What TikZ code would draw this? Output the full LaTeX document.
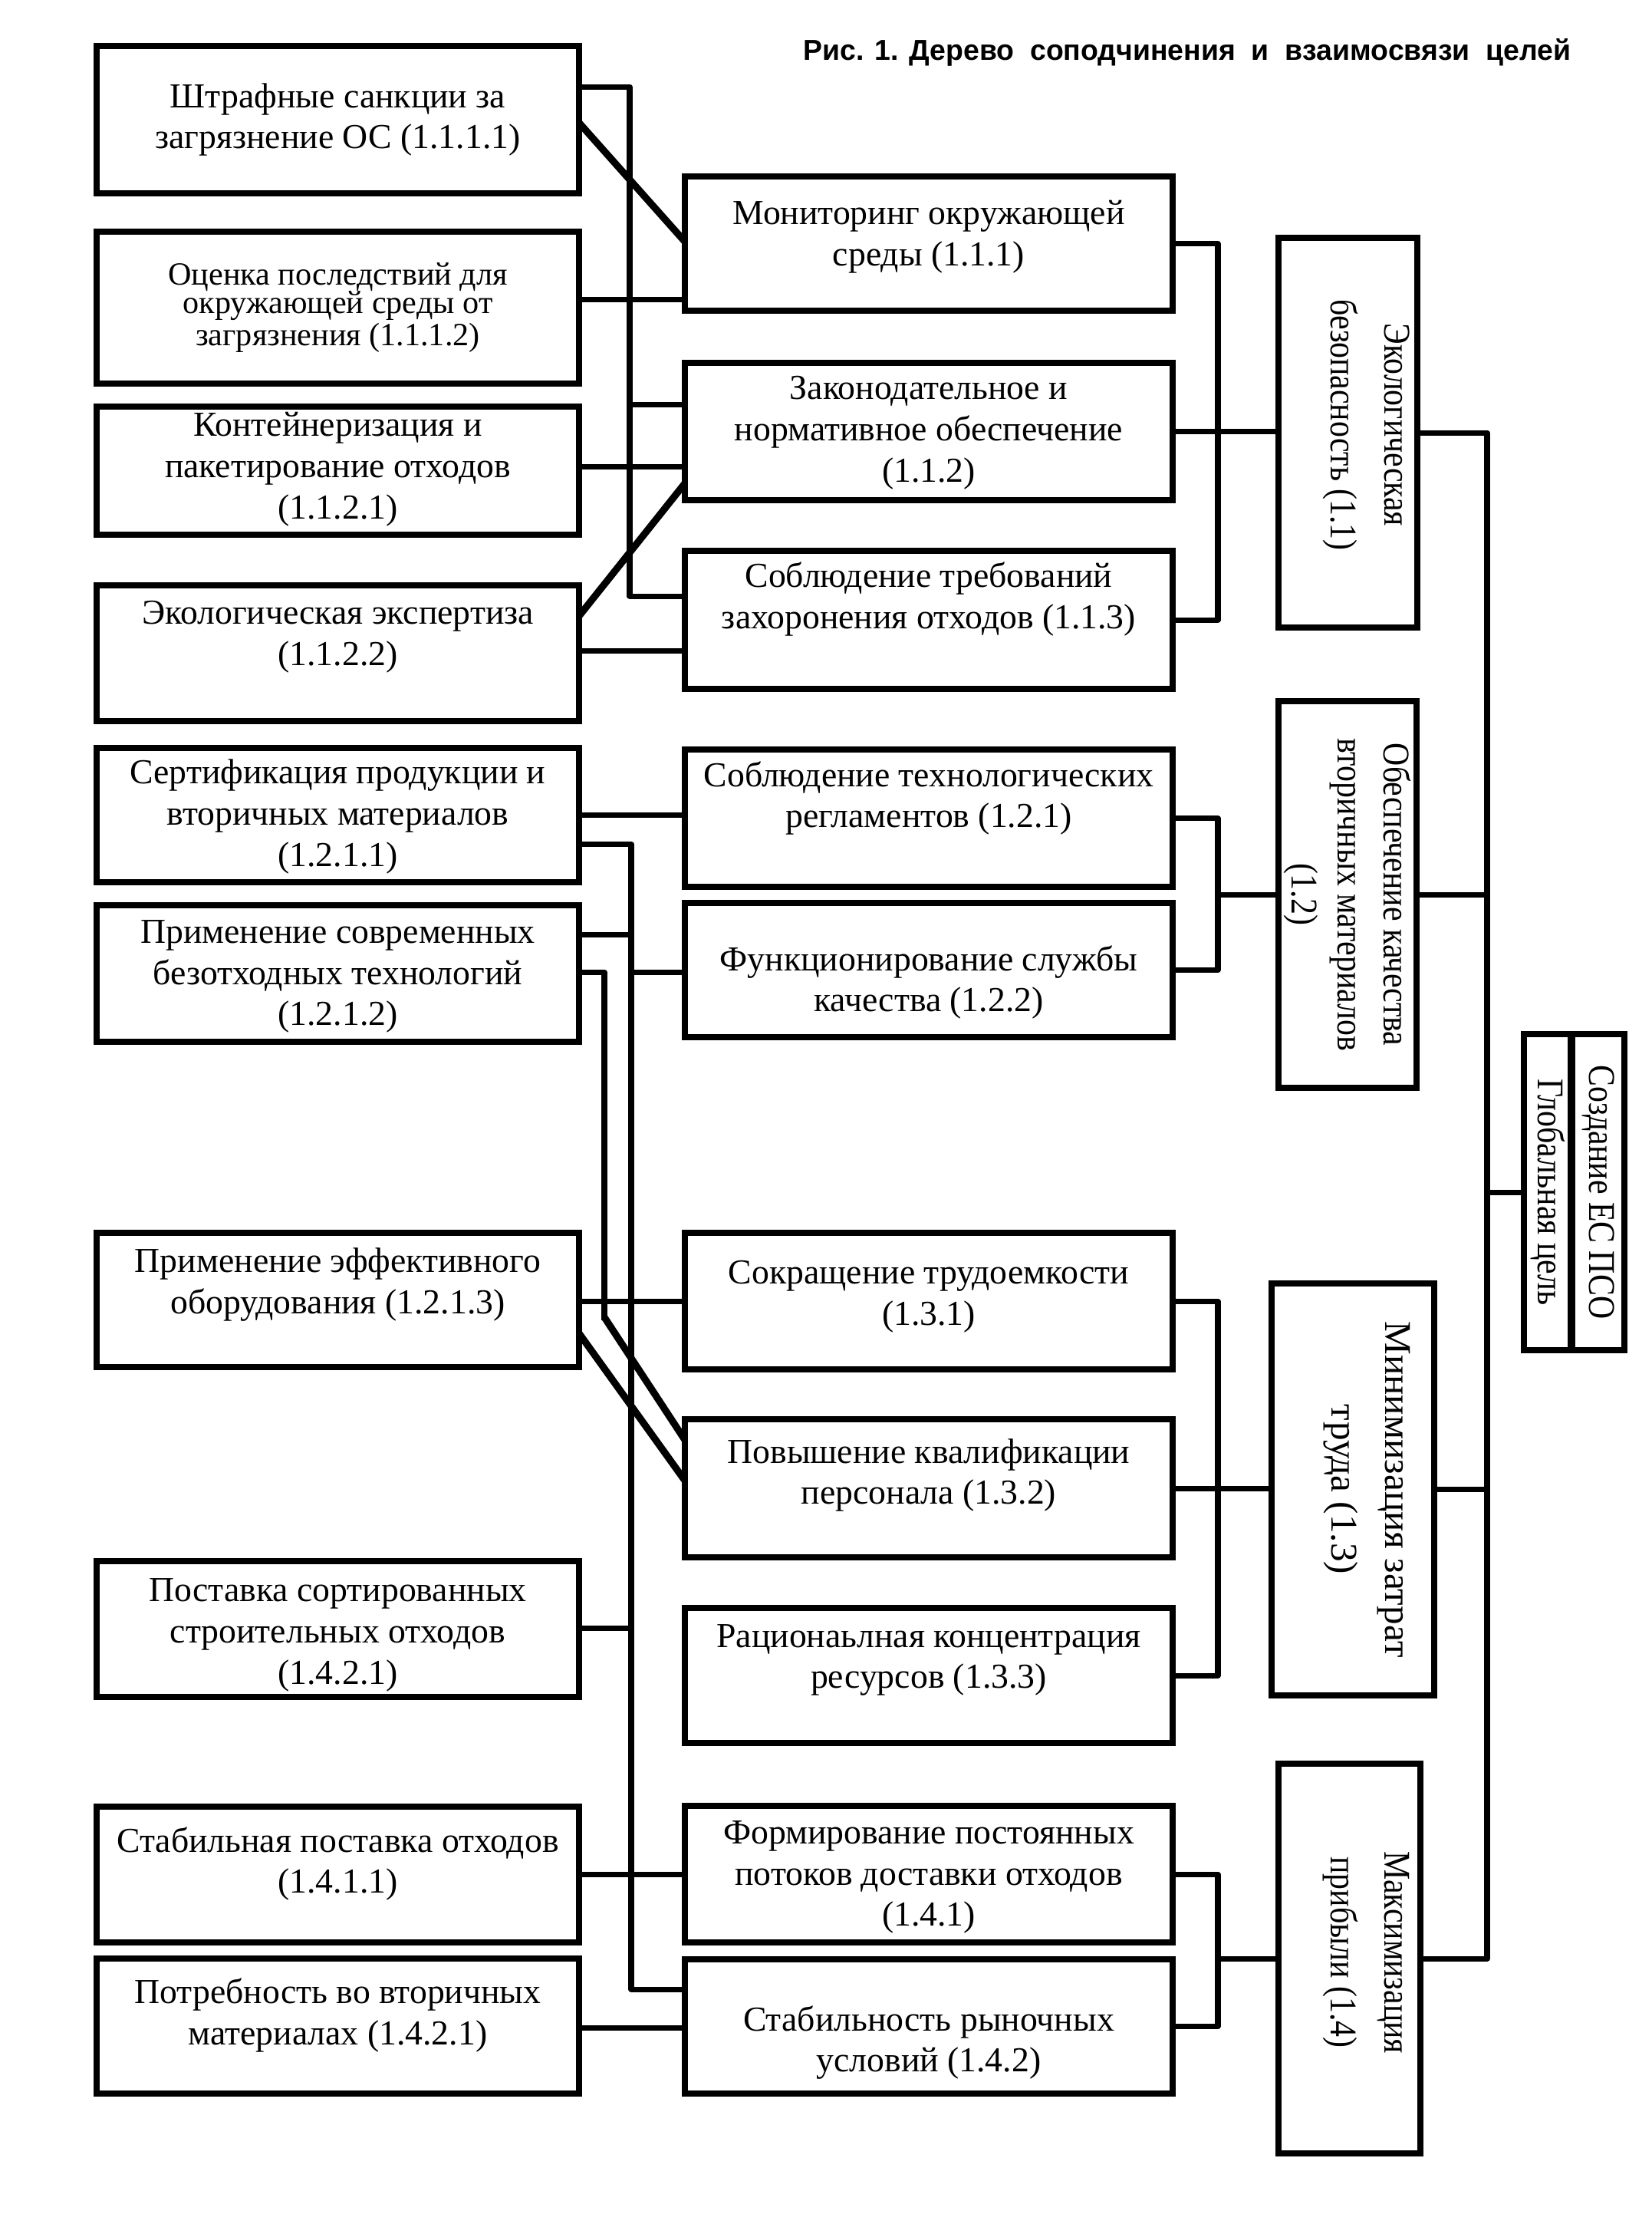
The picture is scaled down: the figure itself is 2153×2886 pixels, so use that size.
\documentclass[tikz,border=0pt]{standalone}
\usepackage{fontspec}
\setmainfont{Liberation Serif}
\setsansfont{Liberation Sans}
\newfontfamily\condfont[FakeStretch=0.85]{Liberation Serif}
\usetikzlibrary{calc}
\tikzset{
  box/.style={draw, line width=2.3pt, rectangle, inner sep=0pt, outer sep=0pt},
  txt/.style={align=center, inner sep=0pt, font=\fontsize{13}{15.3}\selectfont},
  rtxt/.style={rotate=-90, align=center, inner sep=0pt, font=\condfont\fontsize{14}{20}\selectfont},
  conn/.style={line width=2pt, line join=round, line cap=rect},
  diag/.style={line width=2.6pt, line cap=butt},
}
\newcommand\mybox[8][]{%
  \node[box, minimum width={(#5-#3)*0.01cm}, minimum height={(#6-#4)*0.01cm}] (#2) at ({(#3+#5)/2},{(#4+#6)/2}) {};
  \node[txt,#1] (#2T) at ($(#2.center)+(0,#7)$) {#8};
}
\begin{document}
\begin{tikzpicture}[x=0.01cm,y=-0.01cm]
\fill[white] (0,0) rectangle (2153,2886);
\useasboundingbox (0,0) rectangle (2153,2886);

% title
\node[anchor=base west, inner sep=0pt] (title) at (1047,78)
  {\resizebox{10.0cm}{0.28cm}{\sffamily\bfseries Рис. 1. Дерево\ \ соподчинения\ \ и\ \ взаимосвязи\ \ целей}};

% left column
\mybox{b1}{126}{60}{755}{252}{0}{Штрафные санкции за\\загрязнение ОС (1.1.1.1)}
\mybox[font=\fontsize{12}{10.7}\selectfont]{b2}{126}{302}{755}{500}{0}{Оценка последствий для\\окружающей среды от\\загрязнения (1.1.1.2)}
\mybox{b3}{126}{530}{755}{697}{-2}{Контейнеризация и\\пакетирование отходов\\(1.1.2.1)}
\mybox{b4}{126}{763}{755}{940}{-21}{Экологическая экспертиза\\(1.1.2.2)}
\mybox{b5}{126}{975}{755}{1150}{2}{Сертификация продукции и\\вторичных материалов\\(1.2.1.1)}
\mybox{b6}{126}{1180}{755}{1358}{4}{Применение современных\\безотходных технологий\\(1.2.1.2)}
\mybox{b7}{126}{1607}{755}{1782}{-20}{Применение эффективного\\оборудования (1.2.1.3)}
\mybox{b8}{126}{2035}{755}{2212}{8}{Поставка сортированных\\строительных отходов\\(1.4.2.1)}
\mybox{b9}{126}{2355}{755}{2532}{-14}{Стабильная поставка отходов\\(1.4.1.1)}
\mybox{b10}{126}{2553}{755}{2729}{-14}{Потребность во вторичных\\материалах (1.4.2.1)}

% middle column
\mybox{m1}{893}{230}{1529}{405}{-9}{Мониторинг окружающей\\среды (1.1.1)}
\mybox{m2}{893}{473}{1529}{652}{2}{Законодательное и\\нормативное обеспечение\\(1.1.2)}
\mybox{m3}{893}{718}{1529}{898}{-27}{Соблюдение требований\\захоронения отходов (1.1.3)}
\mybox{m4}{893}{977}{1529}{1156}{-26}{Соблюдение технологических\\регламентов (1.2.1)}
\mybox{m5}{893}{1177}{1529}{1352}{16}{Функционирование службы\\качества (1.2.2)}
\mybox{m6}{893}{1607}{1529}{1785}{-6}{Сокращение трудоемкости\\(1.3.1)}
\mybox{m7}{893}{1850}{1529}{2030}{-17}{Повышение квалификации\\персонала (1.3.2)}
\mybox{m8}{893}{2096}{1529}{2272}{-20}{Рационаьлная концентрация\\ресурсов (1.3.3)}
\mybox{m9}{893}{2354}{1529}{2532}{4}{Формирование постоянных\\потоков доставки отходов\\(1.4.1)}
\mybox{m10}{893}{2554}{1529}{2729}{21}{Стабильность рыночных\\условий (1.4.2)}

% right column
\node[box, minimum width=1.81cm, minimum height=5.08cm] (r1) at (1757.5,564) {};
\node[rtxt] (r1T) at ($(r1.center)+(24,-10)$) {Экологическая\\безопасность (1.1)};
\node[box, minimum width=1.80cm, minimum height=5.04cm] (r2) at (1757,1166) {};
\node[rtxt, font=\condfont\fontsize{14}{17}\selectfont] (r2T) at (r2.center) {Обеспечение качества\\вторичных материалов\\(1.2)};
\node[box, minimum width=2.12cm, minimum height=5.37cm] (r3) at (1764,1941.5) {};
\node[rtxt, font=\fontsize{14}{20}\selectfont] (r3T) at ($(r3.center)+(18,0)$) {Минимизация затрат\\труда (1.3)};
\node[box, minimum width=1.85cm, minimum height=5.08cm] (r4) at (1759.5,2553) {};
\node[rtxt] (r4T) at ($(r4.center)+(22,-8)$) {Максимизация\\прибыли (1.4)};

% global goal
\node[box, minimum width=1.31cm, minimum height=4.12cm] (g) at (2052.5,1554) {};
\draw[line width=2.8pt] (g.north -| 2049,0) -- (g.south -| 2049,0);
\node[rtxt] (gl) at (2018,1554) {Глобальная цель};
\node[rtxt] (gr) at (2084,1554) {Создание ЕС ПСО};

% ---- connectors: left -> middle (group 1.1)
\coordinate (j1a) at (821,113);
\coordinate (j1b) at (821,777);
\coordinate (j1c) at (821,527);
\draw[conn] (b1.east |- j1a) -- (j1a) -- (j1b) -- (m3.west |- j1b);
\draw[conn] (j1c) -- (m2.west |- j1c);
\draw[diag] (b1.east |- 0,160) -- (m1.west |- 0,315);
\draw[conn] (b2.east |- 0,390) -- (m1.west |- 0,390);
\draw[conn] (b3.east |- 0,608) -- (m2.west |- 0,608);
\draw[diag] (m2.west |- 0,630) -- (b4.east |- 0,803);
\draw[conn] (b4.east |- 0,848) -- (m3.west |- 0,848);

% ---- lower groups
\coordinate (j2a) at (823,1100);
\coordinate (j2b) at (823,2593);
\coordinate (j2c) at (823,1218);
\coordinate (j2d) at (823,1267);
\coordinate (j2e) at (823,2122);
\draw[conn] (b5.east |- j2a) -- (j2a) -- (j2b) -- (m10.west |- j2b);
\draw[conn] (b5.east |- 0,1062) -- (m4.west |- 0,1062);
\draw[conn] (b6.east |- j2c) -- (j2c);
\draw[conn] (j2d) -- (m5.west |- j2d);
\coordinate (j3a) at (788,1267);
\coordinate (j3b) at (788,1717);
\draw[conn] (b6.east |- j3a) -- (j3a) -- (j3b);
\draw[diag] (j3b) -- (m7.west |- 0,1877);
\draw[conn] (b7.east |- 0,1696) -- (m6.west |- 0,1696);
\draw[diag] (b7.east |- 0,1738) -- (m7.west |- 0,1930);
\draw[conn] (b8.east |- j2e) -- (j2e);
\draw[conn] (b9.east |- 0,2443) -- (m9.west |- 0,2443);
\draw[conn] (b10.east |- 0,2643) -- (m10.west |- 0,2643);

% ---- middle -> right
\coordinate (k1a) at (1588,317.5);
\coordinate (k1b) at (1588,808);
\draw[conn] (m1.east) -- (k1a) -- (k1b) -- (m3.east);
\draw[conn] (m2.east) -- (r1.west |- m2.east);
\coordinate (k2a) at (1588,1066.5);
\coordinate (k2b) at (1588,1264.5);
\draw[conn] (m4.east) -- (k2a) -- (k2b) -- (m5.east);
\draw[conn] (k2a |- r2.west) -- (r2.west);
\coordinate (k3a) at (1588,1696);
\coordinate (k3b) at (1588,2184);
\draw[conn] (m6.east) -- (k3a) -- (k3b) -- (m8.east);
\draw[conn] (m7.east) -- (r3.west |- m7.east);
\coordinate (k4a) at (1588,2443);
\coordinate (k4b) at (1588,2641.5);
\draw[conn] (m9.east) -- (k4a) -- (k4b) -- (m10.east);
\draw[conn] (k4a |- r4.west) -- (r4.west);

% ---- right -> global trunk
\coordinate (t1) at (1939,564);
\coordinate (t2) at (1939,2553);
\draw[conn] (r1.east) -- (t1) -- (t2) -- (r4.east);
\draw[conn] (r2.east) -- (t1 |- r2.east);
\draw[conn] (r3.east) -- (t1 |- r3.east);
\draw[conn] (t1 |- g.west) -- (g.west);
\end{tikzpicture}
\end{document}
